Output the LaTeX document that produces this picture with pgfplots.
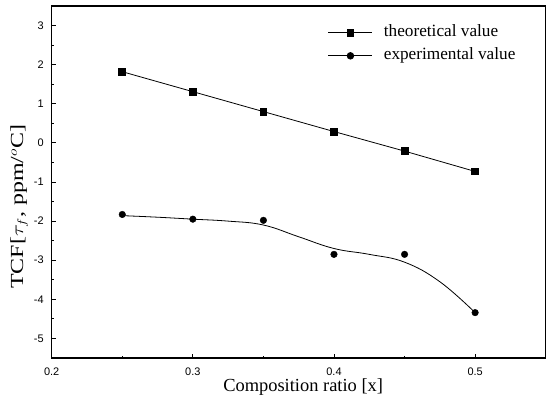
\documentclass[border=0pt]{standalone}
\usepackage{pgfplots}
\pgfplotsset{compat=1.18}
\usepackage{fontspec}
\setmainfont{Liberation Serif}
\setsansfont{Liberation Sans}
\begin{document}
\begin{tikzpicture}[x=1bp,y=1bp]
\begin{axis}[
  scale only axis,
  width=494bp, height=352bp,
  xmin=0.2, xmax=0.55, ymin=-5.5, ymax=3.5,
  xtick={0.2,0.3,0.4,0.5},
  minor xtick={0.25,0.35,0.45},
  ytick={-5,-4,-3,-2,-1,0,1,2,3},
  minor ytick={-4.5,-3.5,-2.5,-1.5,-0.5,0.5,1.5,2.5},
  tick pos=left,
  tick align=inside,
  major tick length=4bp,
  minor tick length=2bp,
  every tick/.style={black, line width=0.8bp},
  axis line style={line width=1.1bp},
  /pgf/number format/assume math mode=true,
  /pgf/number format/fixed,
  tick label style={font=\sffamily\fontsize{11}{13}\selectfont},
  xticklabel style={anchor=center, yshift=-13.5bp, inner sep=0pt},
  yticklabel style={xshift=-4.5bp},
  xlabel={Composition ratio [x]},
  ylabel={TCF[$\tau_{f}$, ppm/$^{o}$C]},
  label style={font=\fontsize{18.5}{20}\selectfont},
  xlabel style={at={(axis description cs:0.509,-0.082)}, anchor=center, inner sep=0pt},
  ylabel style={at={(axis description cs:-0.066,0.43)}, anchor=center, xscale=1.3},
  legend style={draw=none, fill=none, at={(axis description cs:0.559,0.95)}, anchor=north west,
    font=\fontsize{17.3}{19}\selectfont, inner sep=0pt, row sep=5bp,
    nodes={inner ysep=1bp, inner xsep=6bp, text height=12bp, text depth=4bp},
    /tikz/every odd column/.append style={column sep=5bp}},
  legend cell align=left,
  legend image code/.code={\draw[mark repeat=2,mark phase=2] plot coordinates {(0bp,0bp)(22bp,0bp)(44bp,0bp)};},
]
\addplot[black, line width=0.8bp, mark=square*, mark size=3.4bp, mark options={solid}] coordinates {
(0.25,1.82) (0.30,1.31) (0.35,0.80) (0.40,0.29) (0.45,-0.21) (0.50,-0.73)};
\addlegendentry{theoretical value}
\addplot[black, only marks, mark=*, mark size=3.3bp, forget plot] coordinates {
(0.25,-1.83) (0.30,-1.95) (0.35,-1.98) (0.40,-2.85) (0.45,-2.85) (0.50,-4.34)};
\addplot[black, line width=0.8bp, smooth, tension=0.7, forget plot] coordinates {
(0.25,-1.86) (0.275,-1.90) (0.30,-1.95) (0.325,-2.00) (0.35,-2.10) (0.375,-2.40) (0.40,-2.70) (0.425,-2.85) (0.45,-3.05) (0.475,-3.55) (0.50,-4.34)};
\addlegendimage{black, line width=0.8bp, mark=*, mark size=3.3bp}
\addlegendentry{experimental value}
\end{axis}
\pgfresetboundingbox
\path (current axis.south west) ++(-51.7bp,-47bp) rectangle ++(551bp,405bp);
\end{tikzpicture}
\end{document}
